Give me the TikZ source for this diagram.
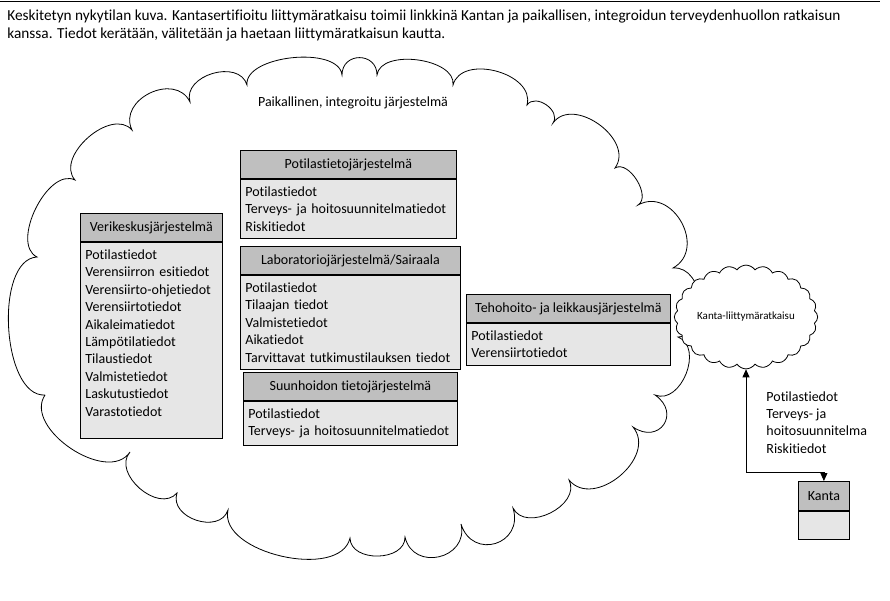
\documentclass[tikz,border=0pt]{standalone}
\usepackage{fontspec}
\setmainfont{Carlito}[Ligatures=NoCommon]
\usetikzlibrary{positioning,shapes.symbols,arrows.meta}
\definecolor{headgray}{RGB}{191,191,191}
\definecolor{bodygray}{RGB}{230,230,230}

\begin{document}
\begin{tikzpicture}[x=1pt, y=-1pt, line width=0.8pt,
    font=\fontsize{14}{17.4}\selectfont,
    H/.style={draw, fill=headgray, anchor=north west, inner sep=0pt,
              minimum height=28pt},
    B/.style={draw, fill=bodygray, align=left, inner xsep=5pt,
              inner ysep=7.5pt, below=0pt of #1},
    pf/.style={bend left=90, looseness=#1},
    dblarr/.style={{Triangle[length=8pt,width=7pt]}-{Triangle[length=8pt,width=7pt]}}]
  \useasboundingbox (0,0) rectangle (890,600);

  % --- Otsikko ---
  \draw (0,1.5) -- (880,1.5);
  \node[anchor=north west, align=left, inner sep=0pt,
        font=\fontsize{15.3}{18}\selectfont] (caption) at (7,9.5)
    {Keskitetyn nykytilan kuva. Kantasertifioitu liittymäratkaisu toimii linkkinä Kantan ja paikallisen, integroidun terveydenhuollon ratkaisun\\
     kanssa. Tiedot kerätään, välitetään ja haetaan liittymäratkaisun kautta.};

  % --- Paikallinen pilvi ---
  \draw (45,395) to[pf=0.8] (37,257) to[pf=0.9] (75,180)
    to[pf=1.05] (132,130) to[pf=1.35] (190,102)
    to[pf=1.2] (247,85) to[pf=0.8] (342,75)
    to[pf=1.7] (377,75) to[pf=0.9] (453,85)
    to[pf=1.1] (527,105) to[pf=1.2] (553,123)
    to[pf=1.15] (615,168) to[pf=0.95] (638,205)
    to[pf=1.4] (673,268) to[pf=1.2] (678,337)
    to[pf=1.15] (655,395) to[pf=2.1] (633,427)
    to[pf=1.2] (569,480) to[pf=1.15] (513,508)
    to[pf=1.8] (461,524) to[pf=1.6] (405,537)
    to[pf=1.15] (350,538) to[pf=0.9] (228,510)
    to[pf=1.25] (177,493) to[pf=1.15] (130,452)
    to[pf=1.0] (45,395);
  \node (localsys) at (353,103) {Paikallinen, integroitu järjestelmä};

  % --- Jarjestelmat ---
  \node[H, minimum width=216pt] (ptjh) at (240,150) {Potilastietojärjestelmä};
  \node[B=ptjh, text width=206pt] (ptjb)
    {Potilastiedot\\ Terveys- ja hoitosuunnitelmatiedot\\ Riskitiedot};

  \node[H, minimum width=142pt] (vkh) at (80,213) {Verikeskusjärjestelmä};
  \node[B=vkh, text width=132pt] (vkb)
    {Potilastiedot\\ Verensiirron esitiedot\\ Verensiirto-ohjetiedot\\
     Verensiirtotiedot\\ Aikaleimatiedot\\ Lämpötilatiedot\\ Tilaustiedot\\
     Valmistetiedot\\ Laskutustiedot\\ Varastotiedot\\[-3pt] \mbox{}};

  \node[H, minimum width=220pt] (labh) at (240,246) {Laboratoriojärjestelmä/Sairaala};
  \node[B=labh, text width=210pt] (labb)
    {Potilastiedot\\ Tilaajan tiedot\\ Valmistetiedot\\ Aikatiedot\\
     Tarvittavat tutkimustilauksen tiedot};

  \node[H, minimum width=214pt] (suuh) at (243,372) {Suunhoidon tietojärjestelmä};
  \node[B=suuh, text width=204pt] (suub)
    {Potilastiedot\\ Terveys- ja hoitosuunnitelmatiedot};

  \node[H, minimum width=204pt] (tehh) at (466,294) {Tehohoito- ja leikkausjärjestelmä};
  \node[B=tehh, text width=194pt] (tehb)
    {Potilastiedot\\ Verensiirtotiedot};

  % --- Kanta ---
  \node[cloud, draw, fill=white, cloud puffs=24, cloud puff arc=110, aspect=1.45,
        minimum width=140pt, minimum height=98pt, inner sep=0pt,
        font=\fontsize{11}{13}\selectfont] (kcloud) at (746,317)
    {Kanta-liittymäratkaisu};
  \node[H, minimum width=51pt, minimum height=29pt] (kantah) at (798,481) {Kanta};
  \node[draw, fill=bodygray, minimum width=51pt, minimum height=28pt,
        below=0pt of kantah] (kantab) {};

  \draw[dblarr] (kantah.north) -- ++(0,-9) -| (kcloud.south);
  \node[anchor=north west, align=left, inner sep=0pt] (flowlbl) at (766,391)
    {Potilastiedot\\ Terveys- ja\\ hoitosuunnitelma\\ Riskitiedot};
\end{tikzpicture}
\end{document}
